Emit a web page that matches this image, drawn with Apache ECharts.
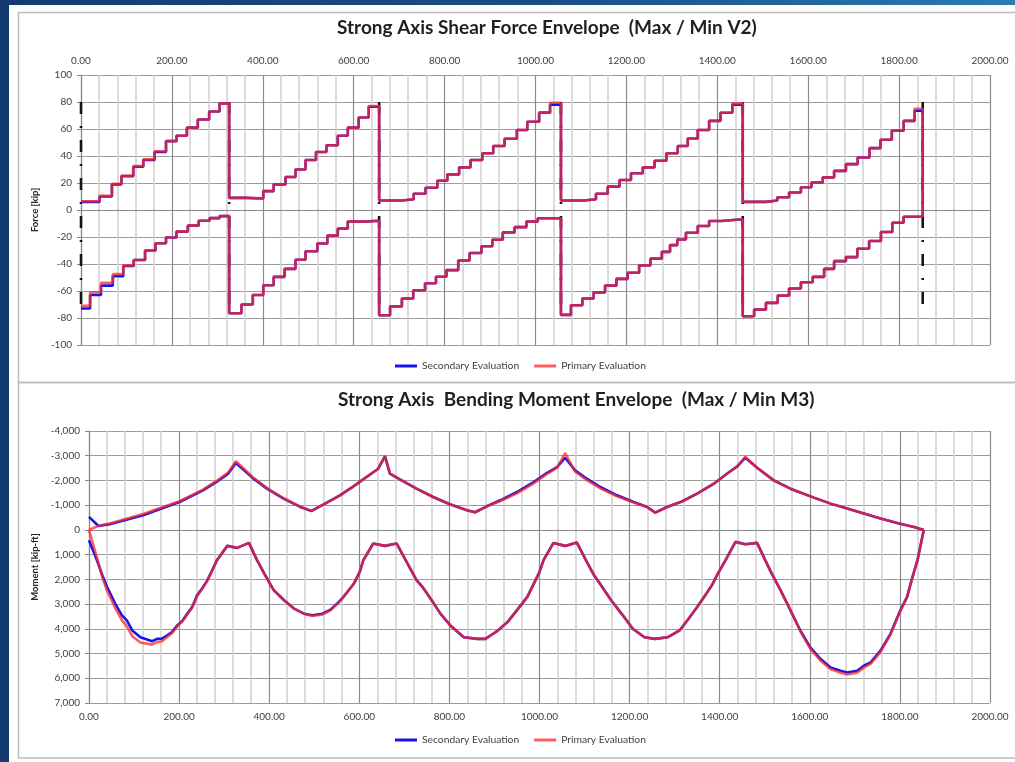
<!DOCTYPE html>
<html>
<head>
<meta charset="utf-8">
<script src="https://cdn.jsdelivr.net/npm/echarts@6/dist/echarts.min.js"></script>
<style>
  html, body { margin: 0; padding: 0; width: 1015px; height: 762px; overflow: hidden; }
  body { position: relative; background: linear-gradient(90deg, #123c70 0%, #1a4f86 55%, #2b7cb0 100%); }
  #panel { position: absolute; left: 9px; top: 5px; width: 1006px; height: 757px; background: #ffffff; }
  #chart { position: absolute; left: 0; top: 0; width: 1015px; height: 762px; }
</style>
</head>
<body>
<div id="panel"></div>
<div id="chart"></div>
<script>
// ---- Station (ft) ranges and tick settings ----
const stationMin = 0, stationMax = 2000, stationStep = 200;
const forceMin = -100, forceMax = 100, forceStep = 20;
const momentMin = -4000, momentMax = 7000, momentStep = 1000;

// Support locations (ft) and the extent of the support marker lines (kip)
const supportX = [0, 326, 656, 1056, 1456, 1852];
const supportTop = 80, supportBottom = -78;

// ---- Shear V2: maximum envelope (value holds from station to next station) ----
const shearMaxX = [
  0, 41, 68, 89, 115, 137, 162, 187, 210, 233, 257, 282, 305,
  326, 364, 401, 424, 450, 472, 494, 517, 540, 565, 587, 611, 633,
  656, 707, 732, 758, 784, 806, 832, 857, 883, 907, 932, 959, 982, 1008, 1032,
  1056, 1107, 1133, 1159, 1185, 1210, 1236, 1262, 1288, 1313, 1335, 1357, 1382, 1407, 1433,
  1456, 1507, 1532, 1558, 1584, 1607, 1632, 1657, 1683, 1709, 1735, 1759, 1784, 1810, 1834, 1852
];
const shearMaxSecondary = [
  6, 10, 19, 25, 32, 37, 43, 51, 55, 61, 67, 73, 79,
  9, 8.5, 14, 19, 24.5, 30, 37, 43, 48, 55, 61, 68.5, 76.5,
  7, 8, 12, 16.5, 21.7, 26.4, 31.6, 37, 42, 47.4, 52.8, 59.3, 65.4, 72.1, 78,
  7, 8, 12, 17.3, 22.2, 27.2, 31.6, 36.5, 42, 47.4, 53, 59.3, 66, 72, 78,
  6, 7, 9.4, 13, 16.8, 20.4, 24.2, 29, 34, 38.9, 45.8, 52, 58.7, 66, 73.5, -5
];
const shearMaxPrimary = [
  6.5, 10.5, 19.5, 25.5, 32.5, 37.5, 43.5, 51, 55, 61, 67, 73, 79,
  9, 8.5, 14, 19, 24.5, 30, 37, 43, 48, 55, 61, 68.5, 77,
  7, 8, 12, 16.5, 21.7, 26.4, 31.6, 37, 42, 47.4, 52.8, 59.3, 65.4, 72.1, 79.5,
  7, 8, 12, 17.3, 22.2, 27.2, 31.6, 36.5, 42, 47.4, 53, 59.3, 66, 72, 79,
  6, 7, 9.4, 13, 16.8, 20.4, 24.2, 29, 34, 38.9, 45.8, 52, 58.7, 66, 75, -5
];

// ---- Shear V2: minimum envelope ----
const shearMinX = [
  0, 20, 44, 70, 93, 116, 141, 164, 187, 210, 235, 259, 283, 305,
  326, 353, 378, 401, 424, 448, 472, 494, 520, 542, 565, 587, 622,
  656, 680, 706, 731, 757, 781, 804, 830, 855, 881, 905, 928, 954, 980, 1005,
  1056, 1078, 1103, 1128, 1153, 1178, 1203, 1228, 1253, 1278, 1296, 1312, 1331, 1357, 1382, 1408,
  1456, 1481, 1507, 1533, 1558, 1584, 1610, 1635, 1657, 1683, 1708, 1734, 1760, 1785, 1810, 1852
];
const shearMinSecondary = [
  -73, -63, -56, -49, -41.5, -37, -30, -24.6, -20.4, -16, -11.6, -8, -6, -4.5,
  -76.5, -70, -63, -55.7, -49.5, -43.6, -36.8, -30.6, -24.8, -19, -13.8, -8.6, -8,
  -78, -71.4, -65.5, -59.4, -54.3, -49.4, -44.5, -37.4, -31.8, -26.9, -22, -16.6, -12.7, -8.6, -6.1,
  -77.7, -70.6, -65.5, -61, -56, -51, -46.5, -41, -36, -31, -26, -21.8, -16.8, -11.9, -8.2, -6.9,
  -78.7, -73.8, -68.8, -63.4, -58.2, -53.5, -49.5, -43.6, -37.9, -34.9, -28.7, -23, -16.3, -9.4, -5, -5
];
const shearMinPrimary = [
  -71, -61, -54, -47.5, -41, -37, -30, -24.6, -20.4, -16, -11.6, -8, -6, -4.5,
  -76.5, -70, -63, -55.7, -49.5, -43.6, -36.8, -30.6, -24.8, -19, -13.8, -8.6, -8,
  -78, -71.4, -65.5, -59.4, -54.3, -49.4, -44.5, -37.4, -31.8, -26.9, -22, -16.6, -12.7, -8.6, -6.1,
  -77.7, -70.6, -65.5, -61, -56, -51, -46.5, -41, -36, -31, -26, -21.8, -16.8, -11.9, -8.2, -6.9,
  -78.7, -73.8, -68.8, -63.4, -58.2, -53.5, -49.5, -43.6, -37.9, -34.9, -28.7, -23, -16.3, -9.4, -5, -5
];

// ---- Moment M3: maximum envelope (hogging, negative) ----
const momentMaxX = [
  0, 21, 46, 120, 201, 253, 283, 309, 326, 365, 395, 432, 469, 494,
  524, 557, 587, 616, 642, 657, 668, 690, 727, 764, 801, 839, 857,
  883, 913, 950, 987, 1016, 1039, 1057, 1079, 1105, 1135, 1172, 1209, 1239, 1257,
  1283, 1316, 1350, 1387, 1416, 1439, 1457, 1483, 1520, 1557, 1609, 1646, 1683, 1720, 1757, 1794, 1831, 1853
];
const momentMaxSecondary = [
  -525, -160, -230, -593, -1130, -1600, -1940, -2276, -2707, -2074, -1670, -1266, -930, -767,
  -1063, -1399, -1762, -2139, -2475, -2972, -2273, -2044, -1668, -1332, -1036, -794, -713,
  -955, -1197, -1533, -1937, -2300, -2542, -2919, -2408, -2071, -1735, -1399, -1130, -928, -699,
  -928, -1150, -1466, -1870, -2273, -2569, -2919, -2515, -2004, -1668, -1305, -1063, -861, -659, -457, -282, -121, 0
];
const momentMaxPrimary = [
  0, -170, -260, -640, -1160, -1630, -1980, -2320, -2775, -2110, -1690, -1280, -940, -770,
  -1063, -1399, -1762, -2139, -2475, -3000, -2273, -2044, -1668, -1332, -1036, -794, -713,
  -955, -1170, -1480, -1880, -2250, -2520, -3107, -2360, -2010, -1680, -1360, -1110, -915, -699,
  -928, -1150, -1466, -1870, -2273, -2569, -2950, -2515, -2004, -1668, -1305, -1063, -861, -659, -457, -282, -121, 0
];

// ---- Moment M3: minimum envelope (sagging, positive) ----
const momentMinX = [
  0, 18, 30, 40, 58, 73, 84, 96, 114, 140, 151, 162, 173, 184, 196, 207, 218, 229, 240, 251, 262, 273, 284,
  307, 329, 355, 373, 390, 410, 433, 455, 477, 496, 518, 536, 551, 562, 587, 601, 609, 631,
  657, 683, 705, 727, 740, 758, 780, 802, 832, 862, 880, 891, 906, 929, 951, 973, 988, 1000, 1009, 1031,
  1057, 1083, 1105, 1120, 1137, 1159, 1185, 1207, 1233, 1256, 1285, 1311, 1331, 1350, 1368, 1383, 1395, 1413, 1435,
  1457, 1483, 1501, 1515, 1535, 1557, 1579, 1601, 1624, 1646, 1668, 1683, 1705, 1720, 1735, 1757, 1779, 1801, 1816, 1826, 1839, 1853
];
const momentMinSecondary = [
  417, 1250, 1850, 2299, 2979, 3455, 3659, 4067, 4339, 4502, 4407, 4400, 4271, 4135, 3863, 3686, 3387, 3115, 2639, 2367, 2060, 1650, 1224,
  646, 726, 525, 1224, 1800, 2435, 2843, 3183, 3387, 3455, 3387, 3224, 2979, 2775, 2200, 1700, 1224, 551,
  646, 551, 1291, 2031, 2300, 2775, 3387, 3863, 4339, 4407, 4407, 4271, 4094, 3727, 3224, 2707, 2150, 1700, 1224, 525,
  646, 511, 1291, 1800, 2250, 2843, 3455, 3999, 4339, 4407, 4339, 4067, 3591, 3115, 2639, 2231, 1800, 1224, 484,
  578, 525, 1224, 1750, 2435, 3251, 4067, 4747, 5223, 5563, 5699, 5767, 5699, 5495, 5359, 4883, 4203, 3251, 2707, 2031, 1224, 0
];
const momentMinPrimary = [
  0, 1150, 1950, 2450, 3150, 3650, 3900, 4300, 4550, 4640, 4540, 4500, 4340, 4180, 3900, 3700, 3420, 3150, 2680, 2390, 2080, 1660, 1224,
  646, 726, 525, 1224, 1800, 2435, 2843, 3183, 3387, 3480, 3420, 3250, 2990, 2775, 2200, 1700, 1224, 551,
  646, 551, 1291, 2031, 2300, 2775, 3387, 3863, 4339, 4407, 4407, 4271, 4094, 3727, 3224, 2707, 2150, 1700, 1224, 525,
  646, 511, 1291, 1800, 2250, 2843, 3455, 3999, 4339, 4407, 4339, 4067, 3591, 3115, 2639, 2231, 1800, 1224, 484,
  578, 525, 1224, 1750, 2435, 3251, 4100, 4800, 5290, 5630, 5780, 5850, 5780, 5570, 5420, 4930, 4240, 3280, 2720, 2031, 1224, 0
];

// ---- Styling ----
const FONT = 'Lato, "Liberation Sans", sans-serif';
const BLUE = '#1414f0';
const RED = 'rgba(255,40,40,0.75)';
const LABEL = '#404040';
const seriesNames = ['Secondary Evaluation', 'Primary Evaluation'];

const zip = (xs, ys) => xs.map((x, i) => [x, ys[i]]);
const fmtThousands = v => (v < 0 ? '-' : '') + Math.abs(v).toLocaleString('en-US');

function xAxisFor(gridIndex, position, margin) {
  return {
    type: 'value', gridIndex, position,
    min: stationMin, max: stationMax, interval: stationStep,
    axisLine: { show: true, lineStyle: { color: '#8a8a8a', width: 1.2 } },
    axisTick: { show: false },
    axisLabel: { color: LABEL, fontFamily: FONT, fontSize: 10, margin, formatter: v => v.toFixed(2) },
    splitLine: { show: true, lineStyle: { color: '#8c8c8c', width: 1.2 } },
    minorTick: { show: false, splitNumber: 5 },
    minorSplitLine: { show: true, lineStyle: { color: '#cfcfcf', width: 1.5 } }
  };
}

function lineSeries(name, data, xi, color, z, step) {
  return {
    name, type: 'line', xAxisIndex: xi, yAxisIndex: xi,
    data, step: step ? 'end' : false, showSymbol: false, symbol: 'none',
    lineStyle: { color, width: 2.6 }, itemStyle: { color }, z, silent: true
  };
}

const supportSeries = supportX.map(x => ({
  name: 'Supports', type: 'line', xAxisIndex: 0, yAxisIndex: 0,
  data: [[x, supportTop], [x, supportBottom]], showSymbol: false, symbol: 'none',
  lineStyle: { color: '#141414', width: 2.6, type: [12, 12, 2, 12] }, z: 1, silent: true
}));

const legendCommon = {
  data: seriesNames, left: 395, padding: 0, icon: 'rect', itemWidth: 22, itemHeight: 3, itemGap: 15,
  textStyle: { color: LABEL, fontFamily: FONT, fontSize: 10.3 }, selectedMode: false
};

const titleStyle = { fontFamily: FONT, fontSize: 19, fontWeight: 'bold', color: '#1f1f1f' };

const option = {
  animation: false,
  textStyle: { fontFamily: FONT },
  graphic: [
    { type: 'rect', shape: { x: 18.5, y: 12.5, width: 1010, height: 370 }, style: { fill: 'none', stroke: '#bdbdbd', lineWidth: 1.5 }, silent: true },
    { type: 'rect', shape: { x: 18.5, y: 382.5, width: 1010, height: 375.5 }, style: { fill: 'none', stroke: '#bdbdbd', lineWidth: 1.5 }, silent: true }
  ],
  title: [
    { text: 'Strong Axis Shear Force Envelope  (Max / Min V2)', left: 337, top: 18, padding: 0, textStyle: titleStyle },
    { text: 'Strong Axis  Bending Moment Envelope  (Max / Min M3)', left: 338, top: 390, padding: 0, textStyle: titleStyle }
  ],
  legend: [
    Object.assign({ top: 361 }, legendCommon),
    Object.assign({ top: 735 }, legendCommon)
  ],
  grid: [
    { left: 81, top: 75, width: 909, height: 270 },
    { left: 89, top: 431, width: 901, height: 272 }
  ],
  xAxis: [xAxisFor(0, 'top', 9), xAxisFor(1, 'bottom', 9)],
  yAxis: [
    {
      type: 'value', gridIndex: 0, min: forceMin, max: forceMax, interval: forceStep,
      name: 'Force [kip]', nameLocation: 'middle', nameRotate: 90, nameGap: 36,
      nameTextStyle: { color: '#262626', fontFamily: FONT, fontSize: 9.5, fontWeight: 'bold' },
      axisLine: { show: true, lineStyle: { color: '#8a8a8a', width: 1.2 } },
      axisTick: { show: true, length: 4, lineStyle: { color: '#8a8a8a' } },
      axisLabel: { color: LABEL, fontFamily: FONT, fontSize: 10, margin: 9 },
      splitLine: { show: true, lineStyle: { color: '#9c9c9c', width: 1.2 } }
    },
    {
      type: 'value', gridIndex: 1, inverse: true, min: momentMin, max: momentMax, interval: momentStep,
      name: 'Moment [kip-ft]', nameLocation: 'middle', nameRotate: 90, nameGap: 44,
      nameTextStyle: { color: '#262626', fontFamily: FONT, fontSize: 9.5, fontWeight: 'bold' },
      axisLine: { show: true, lineStyle: { color: '#8a8a8a', width: 1.2 } },
      axisTick: { show: true, length: 4, lineStyle: { color: '#8a8a8a' } },
      axisLabel: { color: LABEL, fontFamily: FONT, fontSize: 10, margin: 9, formatter: fmtThousands },
      splitLine: { show: true, lineStyle: { color: '#9c9c9c', width: 1.2 } }
    }
  ],
  series: [
    ...supportSeries,
    lineSeries(seriesNames[0], zip(shearMaxX, shearMaxSecondary), 0, BLUE, 2, true),
    lineSeries(seriesNames[0], zip(shearMinX, shearMinSecondary), 0, BLUE, 2, true),
    lineSeries(seriesNames[1], zip(shearMaxX, shearMaxPrimary), 0, RED, 3, true),
    lineSeries(seriesNames[1], zip(shearMinX, shearMinPrimary), 0, RED, 3, true),
    lineSeries(seriesNames[0], zip(momentMaxX, momentMaxSecondary), 1, BLUE, 2, false),
    lineSeries(seriesNames[0], zip(momentMinX, momentMinSecondary), 1, BLUE, 2, false),
    lineSeries(seriesNames[1], zip(momentMaxX, momentMaxPrimary), 1, RED, 3, false),
    lineSeries(seriesNames[1], zip(momentMinX, momentMinPrimary), 1, RED, 3, false)
  ]
};

const chart = echarts.init(document.getElementById('chart'), null, { renderer: 'canvas' });
chart.setOption(option);
</script>
</body>
</html>
